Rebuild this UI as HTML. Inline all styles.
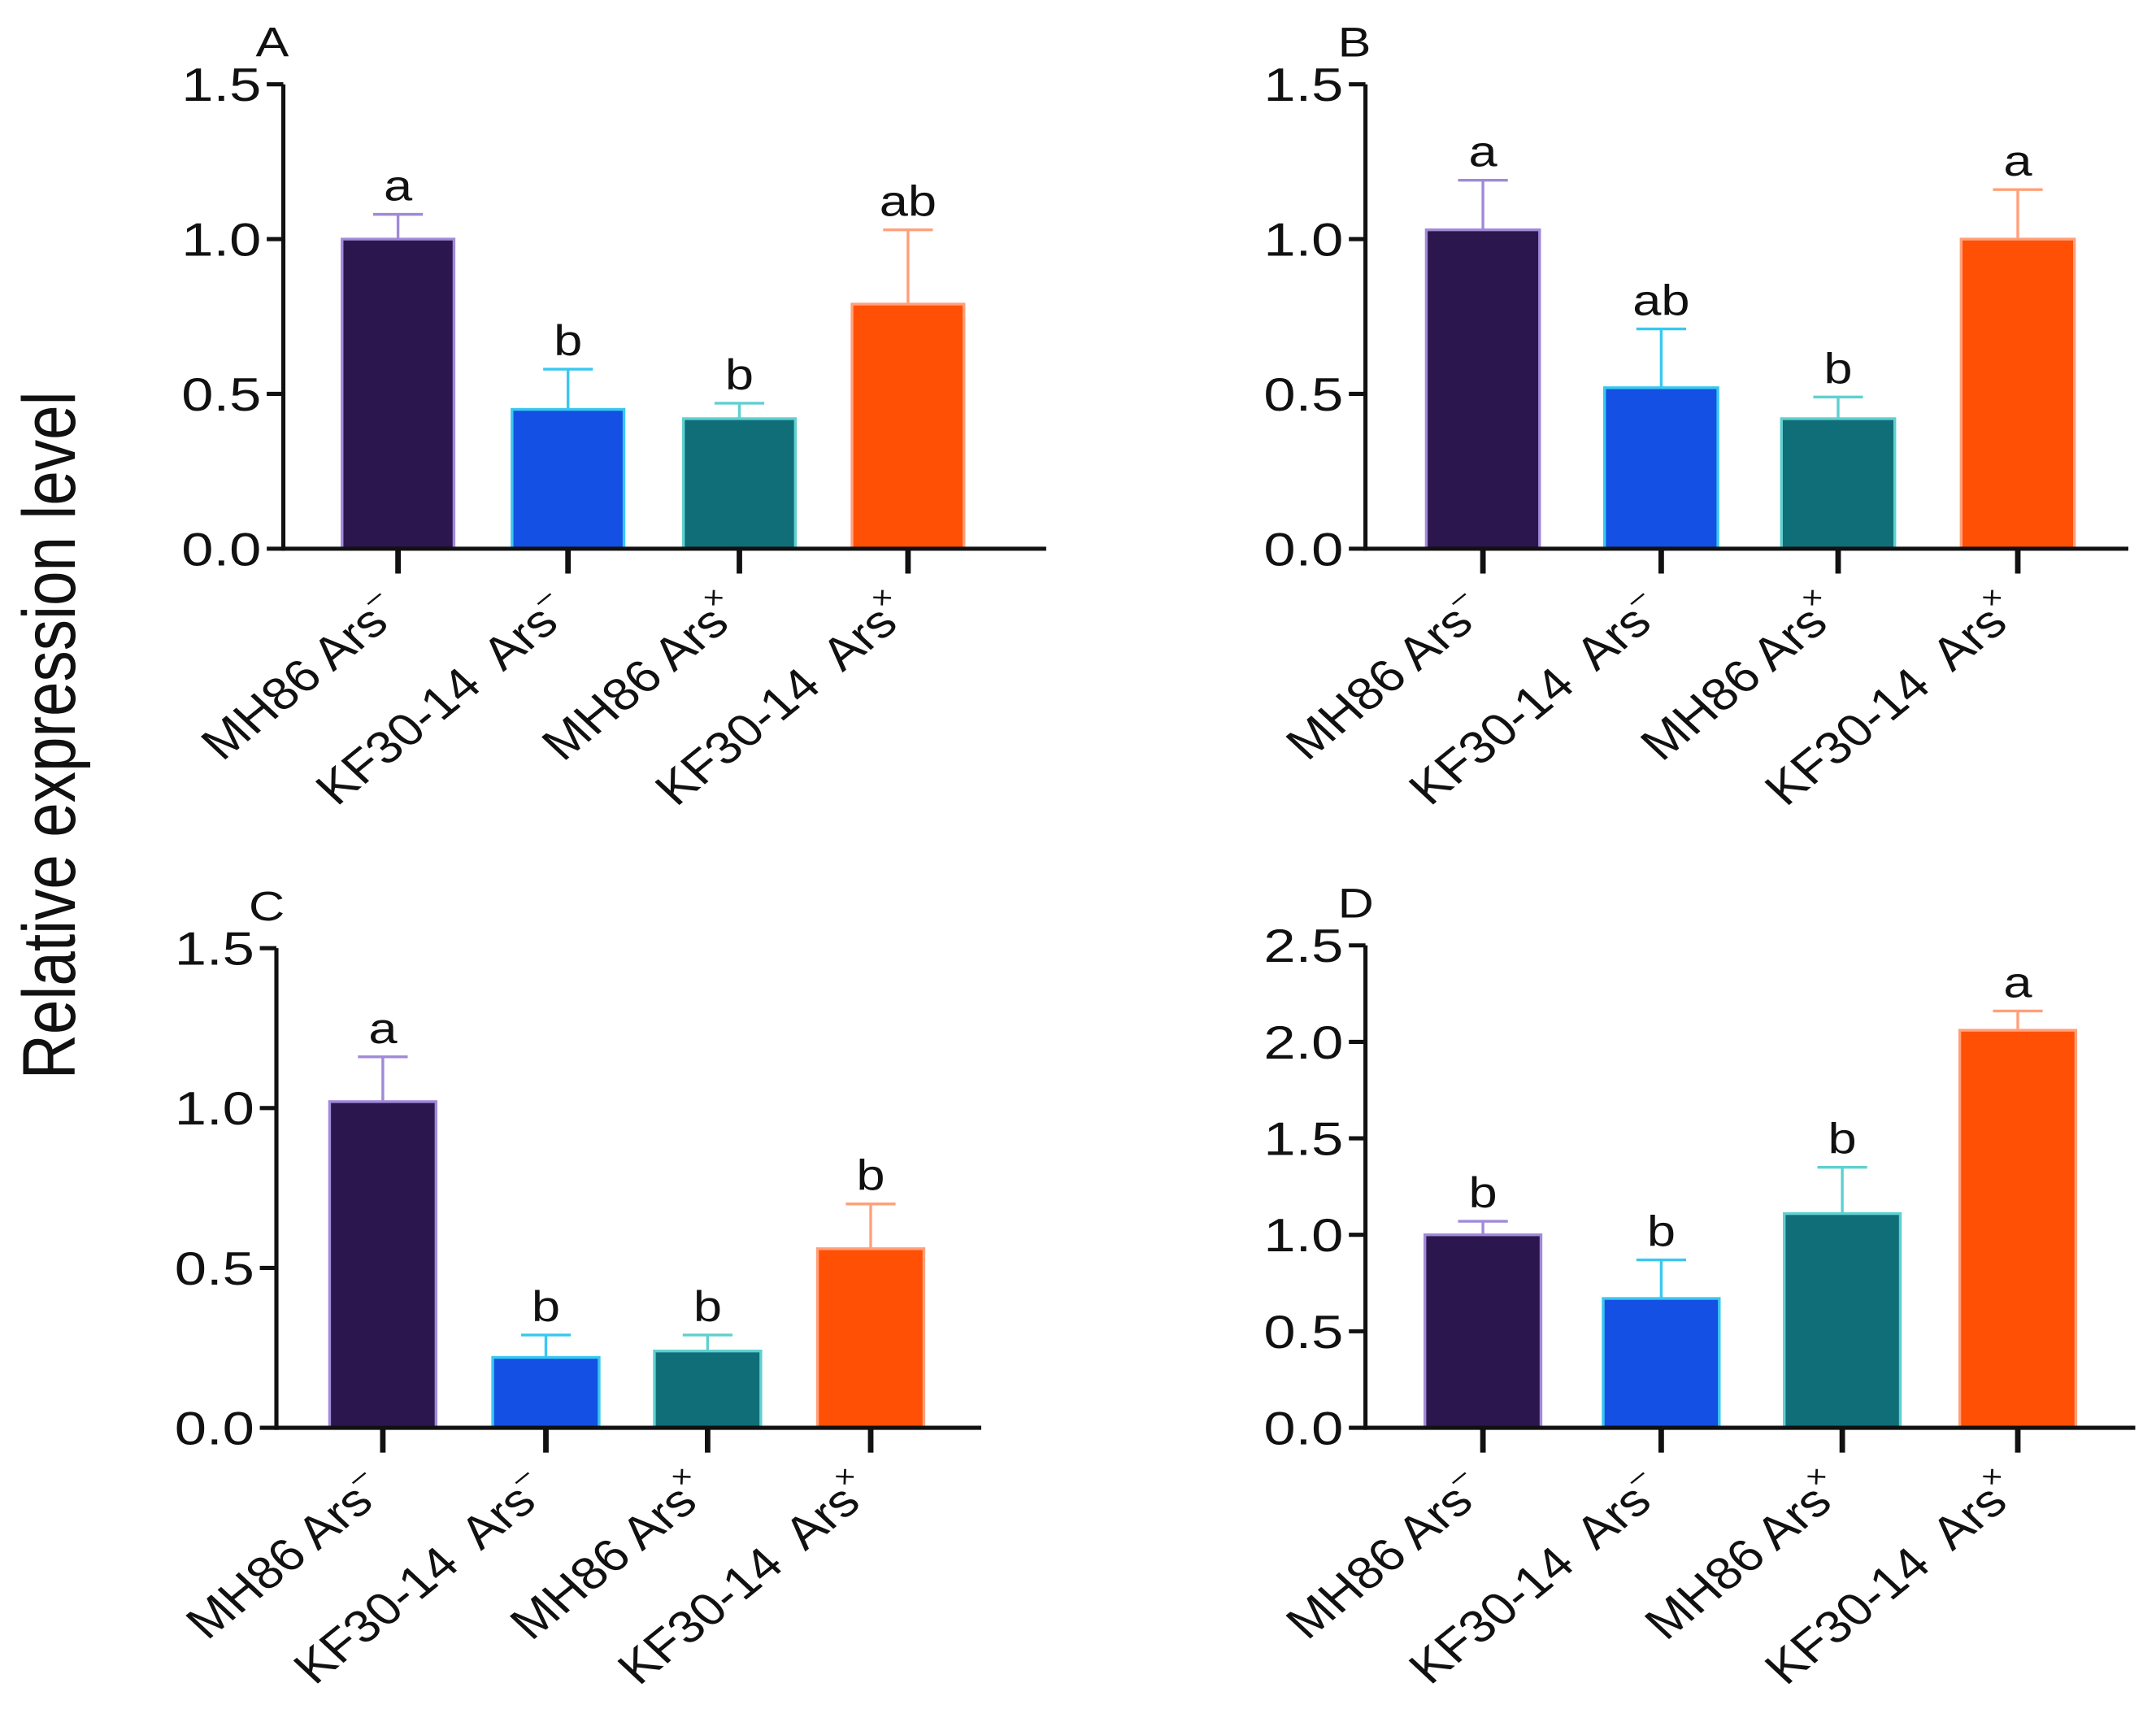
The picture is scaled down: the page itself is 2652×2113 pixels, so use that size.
<!DOCTYPE html>
<html><head><meta charset="utf-8"><style>
html,body{margin:0;padding:0;background:#fff}
svg{display:block}
text{font-family:"Liberation Sans",Arial,sans-serif;fill:#111;white-space:pre}
</style></head><body>
<svg id="chart" width="2652" height="2113" viewBox="0 0 1560 1243" preserveAspectRatio="none" xmlns="http://www.w3.org/2000/svg" xml:space="preserve">
<text transform="translate(54,532) rotate(-90) scale(1,1.2)" text-anchor="middle" font-size="45">Relative expression level</text>
</svg>
<script>
const categories = ["MH86 Ars", "KF30-14  Ars", "MH86 Ars", "KF30-14  Ars"];
const supers = ["\u2013", "\u2013", "\u00d7", "\u00d7"];
const valuesA = [1.00, 0.45, 0.42, 0.79];
const errA = [1.08, 0.58, 0.47, 1.03];
const lettersA = ["a", "b", "b", "ab"];
const valuesB = [1.03, 0.52, 0.42, 1.00];
const errB = [1.19, 0.71, 0.49, 1.16];
const lettersB = ["a", "ab", "b", "a"];
const valuesC = [1.02, 0.22, 0.24, 0.56];
const errC = [1.16, 0.29, 0.29, 0.70];
const lettersC = ["a", "b", "b", "b"];
const valuesD = [1.00, 0.67, 1.11, 2.06];
const errD = [1.07, 0.87, 1.35, 2.16];
const lettersD = ["b", "b", "b", "a"];
const ticksABC = ["0.0", "0.5", "1.0", "1.5"];
const ticksD = ["0.0", "0.5", "1.0", "1.5", "2.0", "2.5"];

const fills = ["#2c164e", "#1450e4", "#0f6e78", "#ff5005"];
const strokes = ["#a08ad8", "#38c8f0", "#60d0d0", "#ffa07a"];
const NS = "http://www.w3.org/2000/svg";
const svg = document.getElementById('chart');
function mk(tag, attrs, parent) {
  const e = document.createElementNS(NS, tag);
  for (const k in attrs) e.setAttribute(k, attrs[k]);
  (parent || svg).appendChild(e);
  return e;
}
const panels = [
  {id:"a", label:"A", vals:valuesA, errs:errA, lets:lettersA, ticks:ticksABC, max:1.5, ax:205, top:61, bot:397, right:757, centers:[288,411,535,657], bw:81},
  {id:"b", label:"B", vals:valuesB, errs:errB, lets:lettersB, ticks:ticksABC, max:1.5, ax:988, top:61, bot:397, right:1540, centers:[1073,1202,1330,1460], bw:82},
  {id:"c", label:"C", vals:valuesC, errs:errC, lets:lettersC, ticks:ticksABC, max:1.5, ax:200, top:686, bot:1033, right:710, centers:[277,395,512,630], bw:77},
  {id:"d", label:"D", vals:valuesD, errs:errD, lets:lettersD, ticks:ticksD, max:2.5, ax:988, top:684, bot:1033, right:1545, centers:[1073,1202,1333,1460], bw:84}
];
panels.forEach(p => {
  const g = mk('g', {});
  
  
  const y = v => p.bot - (v / p.max) * (p.bot - p.top);
  const lab = mk('text', {transform:`translate(${p.ax - 20},${p.top - 20}) scale(1.2,1)`, 'font-size': 30}, g);
  lab.textContent = p.label;
  
  
  p.vals.forEach((v, i) => {
    const cx = p.centers[i];
    const ey = y(p.errs[i]);
    const ebar = mk('path', {d:`M${cx},${y(v)} V${ey} M${cx-18},${ey} H${cx+18}`, stroke:strokes[i], 'stroke-width':2, fill:'none'}, g);
    
    
    const r = mk('rect', {x:cx - p.bw/2, y:y(v), width:p.bw, height:p.bot - y(v), fill:fills[i], stroke:strokes[i], 'stroke-width':2}, g);
    
    
    const t = mk('text', {transform:`translate(${cx},${ey - 10}) scale(1.2,1)`, 'text-anchor':'middle', 'font-size':31}, g);
    t.textContent = p.lets[i];
    
    
    const tk = mk('line', {x1:cx, y1:p.bot, x2:cx, y2:p.bot + 18, stroke:'#111', 'stroke-width':4}, g);
    
    
    const xl = mk('text', {transform:`translate(${cx+4},${p.bot + 48}) scale(1.15,1) rotate(-43)`, 'text-anchor':'end', 'font-size':33}, g);
    
    
    const s1 = mk('tspan', {}, xl); s1.textContent = categories[i];
    const s2 = mk('tspan', {dy:-16, 'font-size':20}, xl); s2.textContent = supers[i];
  });
  const yaxis = mk('line', {x1:p.ax, y1:p.top, x2:p.ax, y2:p.bot + 1.5, stroke:'#111', 'stroke-width':3}, g);
  
  
  const xaxis = mk('line', {x1:p.ax - 1.5, y1:p.bot, x2:p.right, y2:p.bot, stroke:'#111', 'stroke-width':3}, g);
  
  
  p.ticks.forEach(tl => {
    const v = parseFloat(tl);
    const ty = y(v);
    const tk = mk('line', {x1:p.ax - 12, y1:ty, x2:p.ax, y2:ty, stroke:'#111', 'stroke-width':3}, g);
    
    
    const t = mk('text', {transform:`translate(${p.ax - 16},${ty + 12}) scale(1.22,1)`, 'text-anchor':'end', 'font-size':34}, g);
    t.textContent = tl;
    
    
  });
});
</script>
</body></html>
